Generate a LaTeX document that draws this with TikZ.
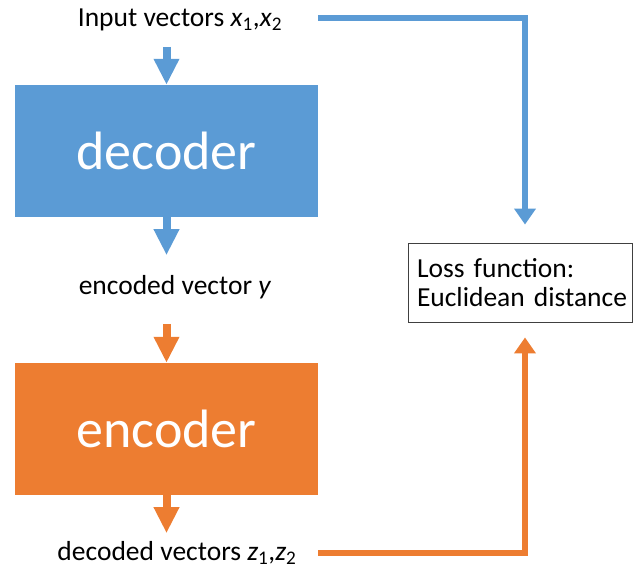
\documentclass[tikz,border=0pt]{standalone}
\usepackage{fontspec}
\setmainfont{Carlito}
\usetikzlibrary{arrows.meta,calc}
\definecolor{oblue}{HTML}{5B9BD5}
\definecolor{oorange}{HTML}{ED7D31}
\tikzset{
  lbl/.style={inner sep=0pt, font=\fontsize{27.5}{30}\selectfont},
  bigbox/.style={minimum width=303pt, minimum height=132pt, inner sep=0pt, text=white, font=\fontsize{54}{60}\selectfont},
  blockarrow/.style={line width=8pt, -{Triangle[width=24pt,length=26pt]}},
  feed/.style={line width=5.5pt, -{Triangle[width=21pt,length=16pt]}}
}
\begin{document}
\begin{tikzpicture}[x=1pt,y=-1pt]
\useasboundingbox (0,0) rectangle (634,571);
\node[lbl] (in) at (180,20) {Input vectors \textit{x}\textsubscript{1},\textit{x}\textsubscript{2}};
\node[bigbox, fill=oblue] (dec) at (166.5,151) {decoder};
\node[lbl] (mid) at (175,287) {encoded vector \textit{y}};
\node[bigbox, fill=oorange] (enc) at (166.5,429) {encoder};
\node[lbl] (out) at (177,553) {decoded vectors \textit{z}\textsubscript{1},\textit{z}\textsubscript{2}};
\node[draw=black!75, line width=0.9pt, minimum width=224pt, minimum height=79pt,
      text width=206pt, inner xsep=9pt, align=left, font=\fontsize{27.5}{29}\selectfont] (loss) at (520,282.5)
      {\mbox{Loss function:}\\\mbox{Euclidean distance}};
% block arrows
\draw[blockarrow, oblue] ([yshift=38pt]dec.north) -- (dec.north);
\draw[blockarrow, oblue] (dec.south) -- ([yshift=-38pt]dec.south);
\draw[blockarrow, oorange] ([yshift=39pt]enc.north) -- (enc.north);
\draw[blockarrow, oorange] (enc.south) -- ([yshift=-38pt]enc.south);
% feed lines
\draw[feed, oblue, shorten >=18pt] (dec.east |- 0,18) -| ([xshift=5pt]loss.north);
\draw[feed, oorange, shorten >=15pt] (enc.east |- 0,553) -| ([xshift=5pt]loss.south);
\end{tikzpicture}
\end{document}
